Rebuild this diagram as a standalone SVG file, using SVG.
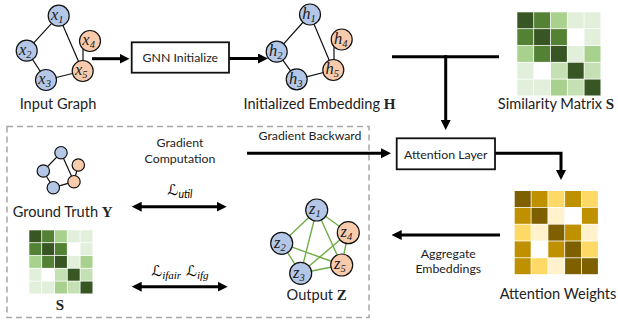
<svg xmlns="http://www.w3.org/2000/svg" width="618" height="329" viewBox="0 0 618 329">
<style>
  .lbl{font-family:Lato,"Liberation Sans",sans-serif;font-size:14.6px;fill:#222}
  .sm{font-family:Lato,"Liberation Sans",sans-serif;font-size:12.3px;fill:#222}
  .bold{font-family:"Liberation Serif","DejaVu Serif",serif;font-weight:bold;font-size:15px}
  .math{font-family:"Liberation Serif","DejaVu Serif",serif;font-style:italic;font-size:16.5px;fill:#1a1a1a}
  .sub{font-size:10.5px}
  .nb{fill:#b4c7e7;stroke:#111;stroke-width:1.2}
  .no{fill:#f8cbad;stroke:#111;stroke-width:1.2}
  .ed{stroke:#111;stroke-width:1.2;fill:none}
  .eg{stroke:#70ad47;stroke-width:1.4;fill:none}
  .box{fill:#fff;stroke:#111;stroke-width:1.8}
  .arr{stroke:#000;stroke-width:3;fill:none}
  .dash{fill:none;stroke:#a6a6a6;stroke-width:1.5;stroke-dasharray:6 4}
  .D{fill:#375623}.M{fill:#548235}.L{fill:#a9d18e}.C{fill:#c5e0b4}.V{fill:#e2efda}.W{fill:#fff}
  .aD{fill:#7f6000}.aM{fill:#bf9000}.aL{fill:#ffd966}.aP{fill:#fff2cc}
  .scr{font-family:"DejaVu Serif","DejaVu Sans",serif;font-style:italic;font-size:15px}
</style>
<defs>
  <marker id="ah" markerUnits="userSpaceOnUse" markerWidth="10" markerHeight="10" refX="2" refY="5" orient="auto-start-reverse" viewBox="0 0 10 10">
    <path d="M0,0 L10,5 L0,10 z" fill="#000"/>
  </marker>
</defs>
<rect width="618" height="329" fill="#fff"/>

<rect class="dash" x="7" y="126.5" width="362" height="191"/>

<g id="connectors">
  <line class="arr" x1="92" y1="58.7" x2="121.5" y2="58.7" marker-end="url(#ah)"/>
  <line class="arr" x1="229" y1="58.5" x2="260" y2="58.5" marker-end="url(#ah)"/>
  <line class="arr" x1="392" y1="56.7" x2="499" y2="56.7"/>
  <line class="arr" x1="445.7" y1="55.2" x2="445.7" y2="122" marker-end="url(#ah)"/>
  <line class="arr" x1="247" y1="153.3" x2="383" y2="153.3" marker-end="url(#ah)"/>
  <polyline class="arr" points="495,153.3 561,153.3 561,172" marker-end="url(#ah)"/>
  <line class="arr" x1="500" y1="235" x2="399.7" y2="235" marker-end="url(#ah)"/>
  <line class="arr" x1="139.7" y1="206.7" x2="218.7" y2="206.7" marker-start="url(#ah)" marker-end="url(#ah)"/>
  <line class="arr" x1="139.7" y1="286.7" x2="219.7" y2="286.7" marker-start="url(#ah)" marker-end="url(#ah)"/>
</g>

<g id="input-graph">
  <line class="ed" x1="58.7" y1="15.7" x2="26.7" y2="50.7"/>
  <line class="ed" x1="58.7" y1="15.7" x2="82.7" y2="71"/>
  <line class="ed" x1="26.7" y1="50.7" x2="46" y2="80"/>
  <line class="ed" x1="46" y1="80" x2="82.7" y2="71"/>
  <line class="ed" x1="83" y1="45" x2="83" y2="62"/>
  <circle class="nb" cx="58.7" cy="15.7" r="10.5"/>
  <circle class="nb" cx="26.7" cy="50.7" r="10.5"/>
  <circle class="nb" cx="46" cy="80" r="10.5"/>
  <circle class="no" cx="90" cy="41" r="10.5"/>
  <circle class="no" cx="82.7" cy="71" r="10.5"/>
  <text class="math" x="51" y="20">x<tspan class="sub" dy="3">1</tspan></text>
  <text class="math" x="19" y="55">x<tspan class="sub" dy="3">2</tspan></text>
  <text class="math" x="38.3" y="84.3">x<tspan class="sub" dy="3">3</tspan></text>
  <text class="math" x="82.3" y="45.3">x<tspan class="sub" dy="3">4</tspan></text>
  <text class="math" x="75" y="75.3">x<tspan class="sub" dy="3">5</tspan></text>
  <text class="lbl" x="58" y="109" text-anchor="middle">Input Graph</text>
</g>

<g id="gnn-init">
  <rect class="box" x="131.7" y="42.3" width="97.3" height="30.4"/>
  <text class="sm" x="180.3" y="61.8" text-anchor="middle">GNN Initialize</text>
</g>

<g id="init-embedding">
  <line class="ed" x1="310" y1="14.5" x2="276.7" y2="51.7"/>
  <line class="ed" x1="310" y1="14.5" x2="333.3" y2="70"/>
  <line class="ed" x1="276.7" y1="51.7" x2="296.7" y2="79.3"/>
  <line class="ed" x1="296.7" y1="79.3" x2="333.3" y2="70"/>
  <line class="ed" x1="334" y1="44" x2="334" y2="61"/>
  <circle class="nb" cx="310" cy="14.5" r="10.5"/>
  <circle class="nb" cx="276.7" cy="51.7" r="10.5"/>
  <circle class="nb" cx="296.7" cy="79.3" r="10.5"/>
  <circle class="no" cx="341.7" cy="39.5" r="10.5"/>
  <circle class="no" cx="333.3" cy="70" r="10.5"/>
  <text class="math" x="302.3" y="18.8">h<tspan class="sub" dy="3">1</tspan></text>
  <text class="math" x="269" y="56">h<tspan class="sub" dy="3">2</tspan></text>
  <text class="math" x="289" y="83.6">h<tspan class="sub" dy="3">3</tspan></text>
  <text class="math" x="334" y="43.8">h<tspan class="sub" dy="3">4</tspan></text>
  <text class="math" x="325.6" y="74.3">h<tspan class="sub" dy="3">5</tspan></text>
  <text class="lbl" x="319.5" y="109" text-anchor="middle">Initialized Embedding <tspan class="bold">H</tspan></text>
</g>

<g id="similarity-matrix">
  <g transform="translate(517.3,12.3)">
    <rect class="D" x="0" y="0" width="16" height="16"/><rect class="M" x="16.8" y="0" width="16" height="16"/><rect class="L" x="33.6" y="0" width="16" height="16"/><rect class="V" x="50.4" y="0" width="16" height="16"/><rect class="V" x="67.2" y="0" width="16" height="16"/>
    <rect class="M" x="0" y="16.8" width="16" height="16"/><rect class="D" x="16.8" y="16.8" width="16" height="16"/><rect class="M" x="33.6" y="16.8" width="16" height="16"/><rect class="W" x="50.4" y="16.8" width="16" height="16"/><rect class="V" x="67.2" y="16.8" width="16" height="16"/>
    <rect class="L" x="0" y="33.6" width="16" height="16"/><rect class="M" x="16.8" y="33.6" width="16" height="16"/><rect class="D" x="33.6" y="33.6" width="16" height="16"/><rect class="V" x="50.4" y="33.6" width="16" height="16"/><rect class="L" x="67.2" y="33.6" width="16" height="16"/>
    <rect class="V" x="0" y="50.4" width="16" height="16"/><rect class="W" x="16.8" y="50.4" width="16" height="16"/><rect class="C" x="33.6" y="50.4" width="16" height="16"/><rect class="D" x="50.4" y="50.4" width="16" height="16"/><rect class="C" x="67.2" y="50.4" width="16" height="16"/>
    <rect class="V" x="0" y="67.2" width="16" height="16"/><rect class="V" x="16.8" y="67.2" width="16" height="16"/><rect class="L" x="33.6" y="67.2" width="16" height="16"/><rect class="C" x="50.4" y="67.2" width="16" height="16"/><rect class="D" x="67.2" y="67.2" width="16" height="16"/>
  </g>
  <text class="lbl" x="556" y="109" text-anchor="middle">Similarity Matrix <tspan class="bold">S</tspan></text>
</g>

<g id="attention-layer">
  <rect class="box" x="396.7" y="138.3" width="98.3" height="31"/>
  <text class="sm" x="445.8" y="158.5" text-anchor="middle">Attention Layer</text>
</g>

<g id="attention-weights">
  <g transform="translate(514.7,191)">
    <rect class="aD" x="0" y="0" width="16" height="16"/><rect class="aM" x="16.8" y="0" width="16" height="16"/><rect class="aL" x="33.6" y="0" width="16" height="16"/><rect class="aM" x="50.4" y="0" width="16" height="16"/><rect class="aL" x="67.2" y="0" width="16" height="16"/>
    <rect class="aM" x="0" y="16.8" width="16" height="16"/><rect class="aD" x="16.8" y="16.8" width="16" height="16"/><rect class="aP" x="33.6" y="16.8" width="16" height="16"/><rect class="W" x="50.4" y="16.8" width="16" height="16"/><rect class="aM" x="67.2" y="16.8" width="16" height="16"/>
    <rect class="aL" x="0" y="33.6" width="16" height="16"/><rect class="aP" x="16.8" y="33.6" width="16" height="16"/><rect class="aD" x="33.6" y="33.6" width="16" height="16"/><rect class="aM" x="50.4" y="33.6" width="16" height="16"/><rect class="aP" x="67.2" y="33.6" width="16" height="16"/>
    <rect class="aM" x="0" y="50.4" width="16" height="16"/><rect class="W" x="16.8" y="50.4" width="16" height="16"/><rect class="aM" x="33.6" y="50.4" width="16" height="16"/><rect class="aD" x="50.4" y="50.4" width="16" height="16"/><rect class="aL" x="67.2" y="50.4" width="16" height="16"/>
    <rect class="aM" x="0" y="67.2" width="16" height="16"/><rect class="aL" x="16.8" y="67.2" width="16" height="16"/><rect class="aP" x="33.6" y="67.2" width="16" height="16"/><rect class="aD" x="50.4" y="67.2" width="16" height="16"/><rect class="aD" x="67.2" y="67.2" width="16" height="16"/>
  </g>
  <text class="lbl" x="558" y="299" text-anchor="middle">Attention Weights</text>
</g>

<g id="labels">
  <text class="sm" x="448.3" y="258.3" text-anchor="middle">Aggregate</text>
  <text class="sm" x="448.3" y="273.3" text-anchor="middle">Embeddings</text>
  <text class="sm" x="310" y="140" text-anchor="middle">Gradient Backward</text>
  <text class="sm" x="180" y="146.7" text-anchor="middle">Gradient</text>
  <text class="sm" x="180" y="163.3" text-anchor="middle">Computation</text>
  <text x="180" y="195" text-anchor="middle"><tspan class="scr">ℒ</tspan><tspan font-family="Lato,sans-serif" font-style="italic" font-size="10.5" dy="2.5">util</tspan></text>
  <text x="180" y="276" text-anchor="middle"><tspan class="scr">ℒ</tspan><tspan font-family="'Liberation Serif',serif" font-style="italic" font-size="11" dy="2.5">ifair</tspan><tspan class="scr" dx="5" dy="-2.5">ℒ</tspan><tspan font-family="'Liberation Serif',serif" font-style="italic" font-size="11" dy="2.5">ifg</tspan></text>
</g>

<g id="ground-truth">
  <line class="ed" x1="61" y1="152.7" x2="43.3" y2="171"/>
  <line class="ed" x1="61" y1="152.7" x2="74" y2="181.7"/>
  <line class="ed" x1="43.3" y1="171" x2="53.3" y2="187.7"/>
  <line class="ed" x1="53.3" y1="187.7" x2="74" y2="181.7"/>
  <line class="ed" x1="78.3" y1="165" x2="74" y2="181.7"/>
  <circle class="nb" cx="61" cy="152.7" r="6.2"/>
  <circle class="nb" cx="43.3" cy="171" r="6.2"/>
  <circle class="nb" cx="53.3" cy="187.7" r="6.2"/>
  <circle class="no" cx="78.3" cy="165" r="6.2"/>
  <circle class="no" cx="74" cy="181.7" r="6.2"/>
  <text class="lbl" x="12.7" y="217">Ground Truth <tspan class="bold">Y</tspan></text>
</g>

<g id="small-S">
  <g transform="translate(29.3,230.3)">
    <rect class="D" x="0" y="0" width="12" height="12"/><rect class="M" x="12.8" y="0" width="12" height="12"/><rect class="L" x="25.6" y="0" width="12" height="12"/><rect class="V" x="38.4" y="0" width="12" height="12"/><rect class="V" x="51.2" y="0" width="12" height="12"/>
    <rect class="M" x="0" y="12.8" width="12" height="12"/><rect class="D" x="12.8" y="12.8" width="12" height="12"/><rect class="M" x="25.6" y="12.8" width="12" height="12"/><rect class="W" x="38.4" y="12.8" width="12" height="12"/><rect class="V" x="51.2" y="12.8" width="12" height="12"/>
    <rect class="L" x="0" y="25.6" width="12" height="12"/><rect class="M" x="12.8" y="25.6" width="12" height="12"/><rect class="D" x="25.6" y="25.6" width="12" height="12"/><rect class="V" x="38.4" y="25.6" width="12" height="12"/><rect class="L" x="51.2" y="25.6" width="12" height="12"/>
    <rect class="V" x="0" y="38.4" width="12" height="12"/><rect class="W" x="12.8" y="38.4" width="12" height="12"/><rect class="C" x="25.6" y="38.4" width="12" height="12"/><rect class="D" x="38.4" y="38.4" width="12" height="12"/><rect class="C" x="51.2" y="38.4" width="12" height="12"/>
    <rect class="V" x="0" y="51.2" width="12" height="12"/><rect class="V" x="12.8" y="51.2" width="12" height="12"/><rect class="L" x="25.6" y="51.2" width="12" height="12"/><rect class="C" x="38.4" y="51.2" width="12" height="12"/><rect class="D" x="51.2" y="51.2" width="12" height="12"/>
  </g>
  <text class="bold" x="60" y="310" text-anchor="middle" fill="#222">S</text>
</g>

<g id="output-z">
  <line class="eg" x1="316.7" y1="210" x2="281.7" y2="243.3"/>
  <line class="eg" x1="316.7" y1="210" x2="300.7" y2="273.3"/>
  <line class="eg" x1="316.7" y1="210" x2="341.7" y2="265"/>
  <line class="eg" x1="316.7" y1="210" x2="348.3" y2="232.7"/>
  <line class="eg" x1="281.7" y1="243.3" x2="300.7" y2="273.3"/>
  <line class="eg" x1="281.7" y1="243.3" x2="341.7" y2="265"/>
  <line class="eg" x1="300.7" y1="273.3" x2="348.3" y2="232.7"/>
  <line class="eg" x1="300.7" y1="273.3" x2="341.7" y2="265"/>
  <line class="eg" x1="348.3" y1="232.7" x2="341.7" y2="265"/>
  <circle class="nb" cx="316.7" cy="210" r="11"/>
  <circle class="nb" cx="281.7" cy="243.3" r="11"/>
  <circle class="nb" cx="300.7" cy="273.3" r="11"/>
  <circle class="no" cx="348.3" cy="232.7" r="11"/>
  <circle class="no" cx="341.7" cy="265" r="11"/>
  <text class="math" x="309" y="214.3">z<tspan class="sub" dy="3">1</tspan></text>
  <text class="math" x="274" y="247.6">z<tspan class="sub" dy="3">2</tspan></text>
  <text class="math" x="293" y="277.6">z<tspan class="sub" dy="3">3</tspan></text>
  <text class="math" x="340.6" y="237">z<tspan class="sub" dy="3">4</tspan></text>
  <text class="math" x="334" y="269.3">z<tspan class="sub" dy="3">5</tspan></text>
  <text class="lbl" x="316.7" y="300" text-anchor="middle">Output <tspan class="bold">Z</tspan></text>
</g>
</svg>
